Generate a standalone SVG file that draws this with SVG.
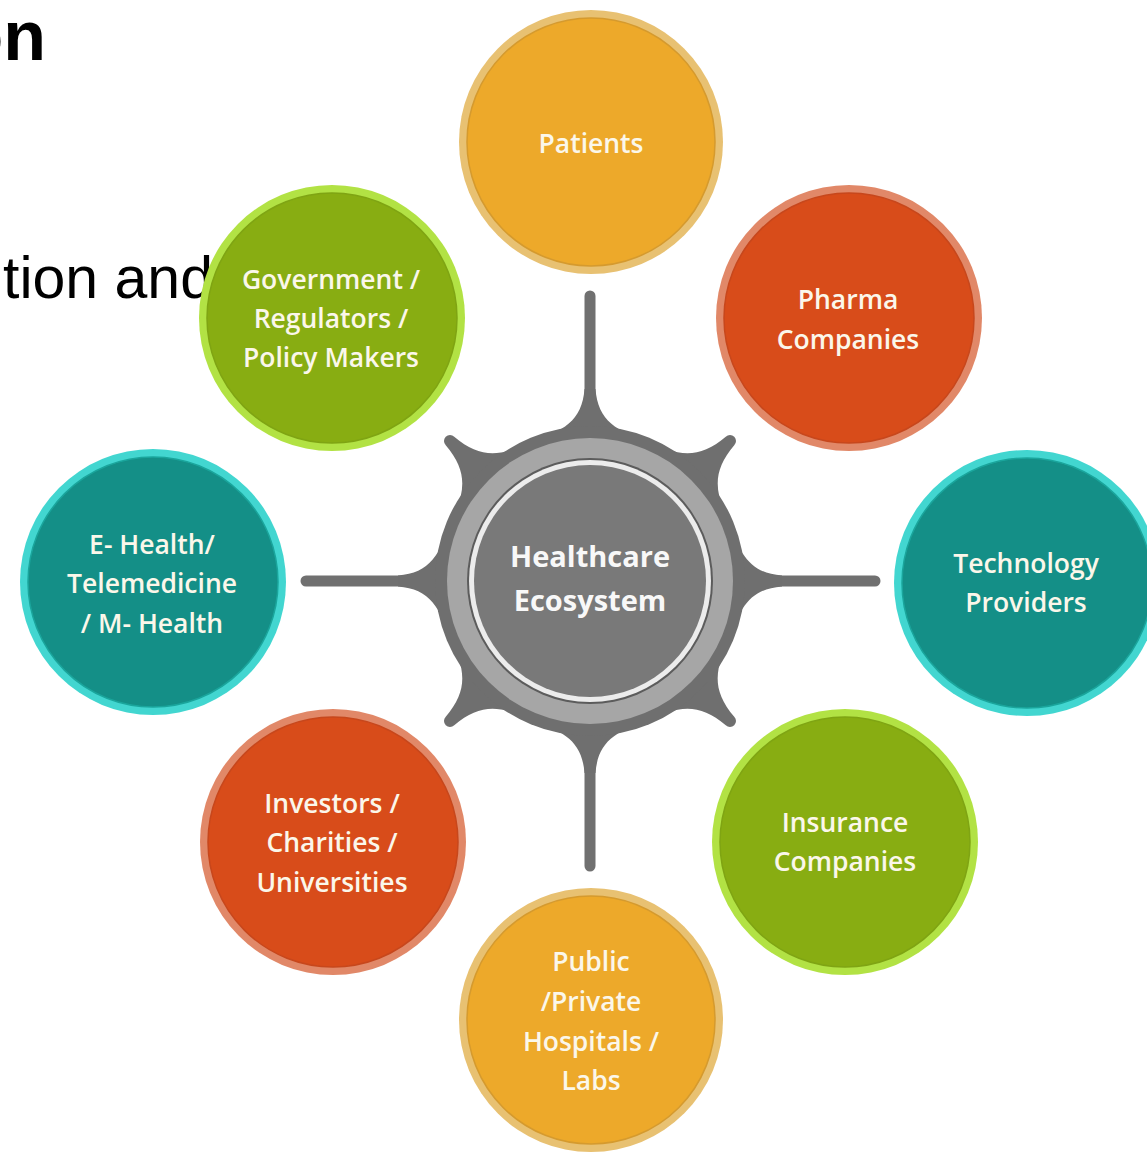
<svg xmlns="http://www.w3.org/2000/svg" width="1147" height="1154" viewBox="0 0 1147 1154">
<defs>
<style>
.lbl{font-family:"Open Sans","Liberation Sans",sans-serif;font-size:26.5px;font-weight:600;fill:#fbf7ea;text-anchor:middle}
.hub{font-family:"Open Sans","Liberation Sans",sans-serif;font-size:29px;font-weight:bold;fill:#f8f8f8;text-anchor:middle}
.bg{font-family:"Liberation Sans",Arial,sans-serif;fill:#000}
.spoke{stroke:#707070;stroke-width:11;stroke-linecap:round;fill:none}
.orange .ring{fill:#E8C172}.orange .core{fill:#EDA92A;stroke:#D59A2E;stroke-width:1.5}
.red .ring{fill:#E18868}.red .core{fill:#D84C1A;stroke:#C7471C;stroke-width:1.5}
.teal .ring{fill:#42D6D0}.teal .core{fill:#148F87;stroke:#1AA59C;stroke-width:1.5}
.green .ring{fill:#B2E244}.green .core{fill:#88AD12;stroke:#7FA413;stroke-width:1.5}
</style>
<path id="spikeD" d="M -62,-138 C -26,-150 -9,-162 -6,-198 A 6 6 0 0 1 6,-198 C 9,-162 26,-150 62,-138 Z" fill="#6f6f6f"/>
<path id="spikeC" d="M -62,-138 C -26,-150 -8,-160 -5.5,-192 L 5.5,-192 C 8,-160 26,-150 62,-138 Z" fill="#6f6f6f"/>
</defs>
<rect width="1147" height="1154" fill="#ffffff"/>

<g id="background-text">
<text class="bg" x="46" y="60" font-size="70" font-weight="bold" text-anchor="end">on</text>
<text class="bg" x="213" y="298" font-size="59" text-anchor="end">tion and</text>
</g>

<g id="connectors">
<line class="spoke" x1="590" y1="400" x2="590" y2="296"/>
<line class="spoke" x1="590" y1="762" x2="590" y2="866"/>
<line class="spoke" x1="405" y1="581" x2="306" y2="581"/>
<line class="spoke" x1="775" y1="581" x2="875" y2="581"/>
</g>

<g id="hub" transform="translate(590,581)">
<use href="#spikeC"/>
<use href="#spikeC" transform="rotate(90)"/>
<use href="#spikeC" transform="rotate(180)"/>
<use href="#spikeC" transform="rotate(270)"/>
<use href="#spikeD" transform="rotate(45)"/>
<use href="#spikeD" transform="rotate(135)"/>
<use href="#spikeD" transform="rotate(225)"/>
<use href="#spikeD" transform="rotate(315)"/>
<circle r="155" fill="#6f6f6f"/>
<circle r="143" fill="#a6a6a6"/>
<circle r="123" fill="#5c5c5c"/>
<circle r="121" fill="#ececec"/>
<circle r="116" fill="#797979"/>
<text class="hub" x="0" y="-14">Healthcare</text>
<text class="hub" x="0" y="30">Ecosystem</text>
</g>

<g id="patients" class="orange">
<circle class="ring" cx="591" cy="142" r="132"/>
<circle class="core" cx="591" cy="142" r="124"/>
<text class="lbl" x="591" y="153">Patients</text>
</g>

<g id="pharma" class="red">
<circle class="ring" cx="849" cy="318" r="133"/>
<circle class="core" cx="849" cy="318" r="125"/>
<text class="lbl" x="848" y="309">Pharma</text>
<text class="lbl" x="848" y="349">Companies</text>
</g>

<g id="technology" class="teal">
<circle class="ring" cx="1027" cy="583" r="133"/>
<circle class="core" cx="1027" cy="583" r="125"/>
<text class="lbl" x="1026" y="573">Technology</text>
<text class="lbl" x="1026" y="612">Providers</text>
</g>

<g id="insurance" class="green">
<circle class="ring" cx="845" cy="842" r="133"/>
<circle class="core" cx="845" cy="842" r="125"/>
<text class="lbl" x="845" y="832">Insurance</text>
<text class="lbl" x="845" y="871">Companies</text>
</g>

<g id="hospitals" class="orange">
<circle class="ring" cx="591" cy="1020" r="132"/>
<circle class="core" cx="591" cy="1020" r="124"/>
<text class="lbl" x="591" y="971">Public</text>
<text class="lbl" x="591" y="1011">/Private</text>
<text class="lbl" x="591" y="1051">Hospitals /</text>
<text class="lbl" x="591" y="1090">Labs</text>
</g>

<g id="investors" class="red">
<circle class="ring" cx="333" cy="842" r="133"/>
<circle class="core" cx="333" cy="842" r="125"/>
<text class="lbl" x="332" y="813">Investors /</text>
<text class="lbl" x="332" y="852">Charities /</text>
<text class="lbl" x="332" y="892">Universities</text>
</g>

<g id="ehealth" class="teal">
<circle class="ring" cx="153" cy="582" r="133"/>
<circle class="core" cx="153" cy="582" r="125"/>
<text class="lbl" x="152" y="554">E- Health/</text>
<text class="lbl" x="152" y="593">Telemedicine</text>
<text class="lbl" x="152" y="633">/ M- Health</text>
</g>

<g id="government" class="green">
<circle class="ring" cx="332" cy="318" r="133"/>
<circle class="core" cx="332" cy="318" r="125"/>
<text class="lbl" x="331" y="289">Government /</text>
<text class="lbl" x="331" y="328">Regulators /</text>
<text class="lbl" x="331" y="367">Policy Makers</text>
</g>
</svg>
